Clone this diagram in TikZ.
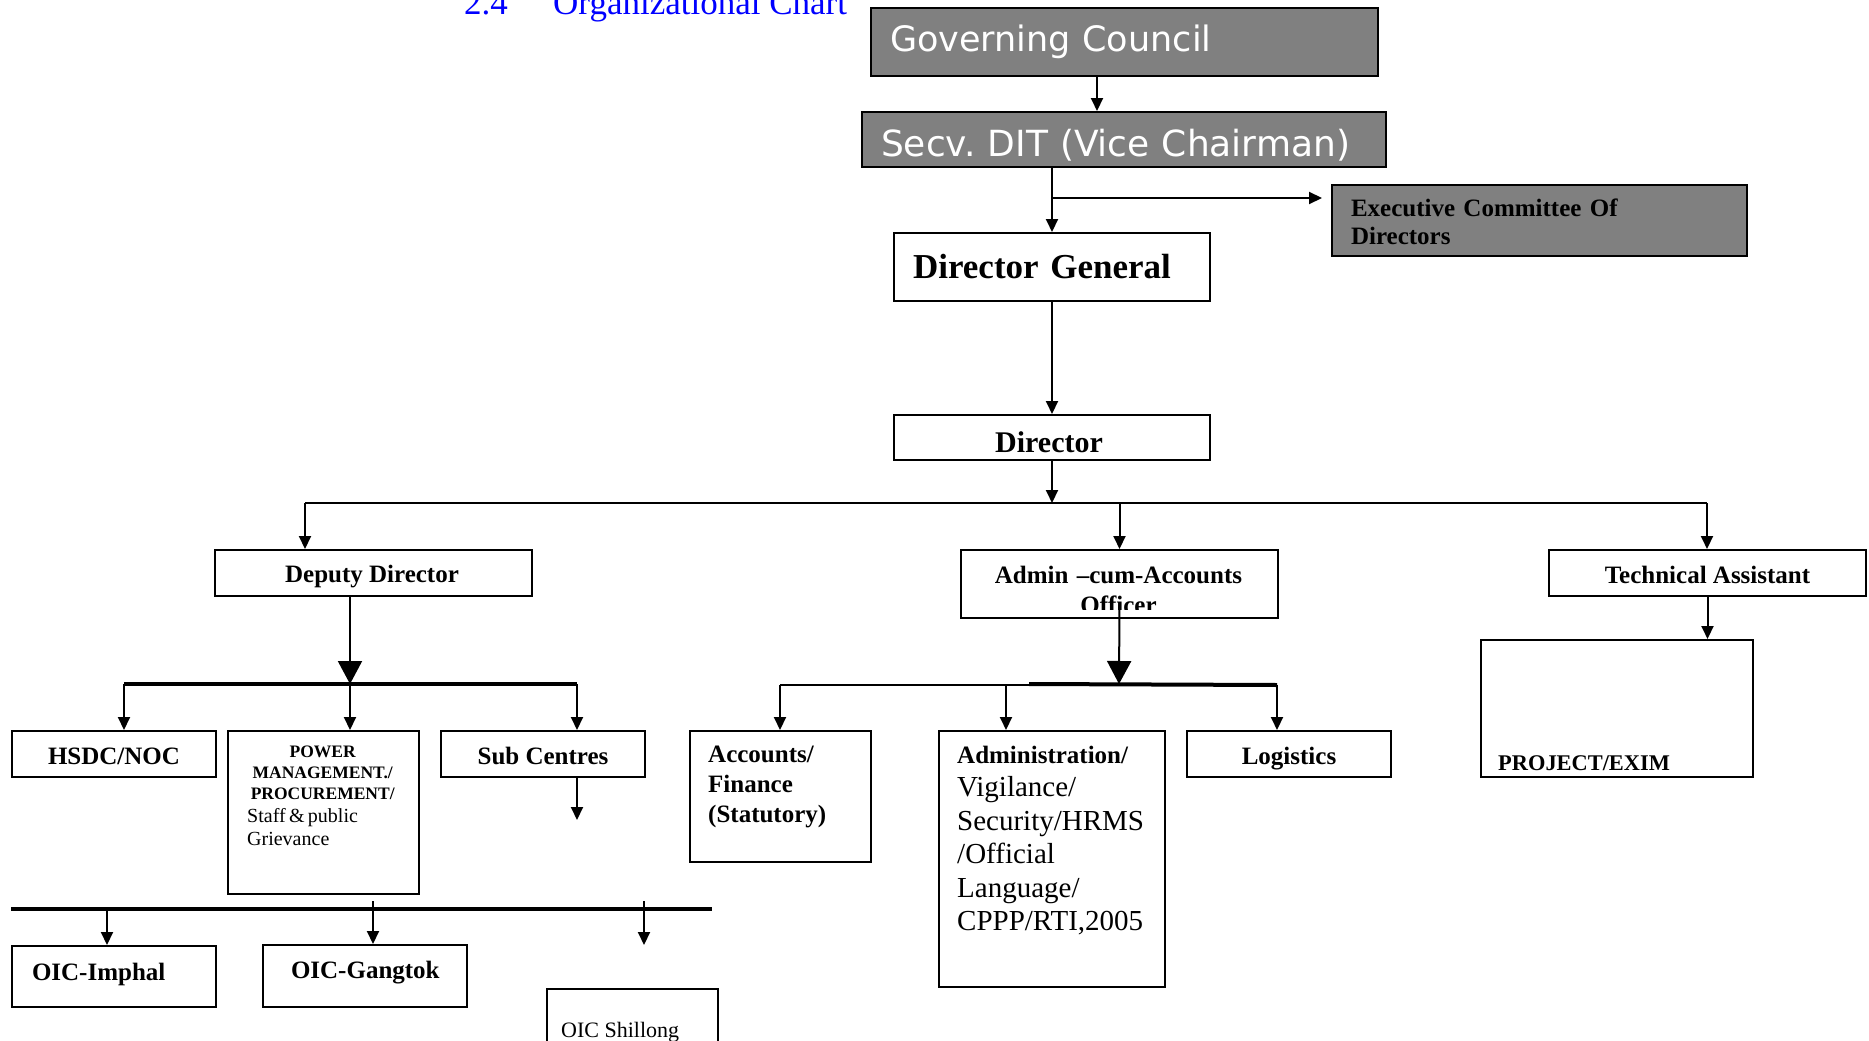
\documentclass[tikz,border=0pt]{standalone}
\usepackage{fontspec}
\setmainfont{Liberation Serif}
\newfontfamily\dejavu{DejaVu Sans}
\usetikzlibrary{arrows.meta, positioning, calc}
\definecolor{boxgray}{RGB}{128,128,128}
\definecolor{titleblue}{RGB}{0,0,255}

\begin{document}
\frenchspacing
\begin{tikzpicture}[x=1pt, y=-1pt,
  orgbox/.style={draw, line width=2pt, inner sep=0pt, anchor=north west},
  greybox/.style={orgbox, fill=boxgray},
  lbl/.style={inner sep=0pt, font=\bfseries\fontsize{25}{30}\selectfont},
  onebox/.style={orgbox, lbl, text height=20pt, text depth=0pt},
  headline/.style={inner sep=0pt, anchor=base west, text=titleblue, font=\fontsize{35}{42}\selectfont},
  wire/.style={line width=2pt},
  bus/.style={line width=4pt},
  link/.style={wire, -{Triangle[length=13pt, width=12pt]}},
  bigtip/.style={wire, -{Triangle[length=23pt, width=24pt]}},
]

% -------------------------------------------------------
% 1. Page and heading
% -------------------------------------------------------
\useasboundingbox (0,0) rectangle (1869,1041);
\node[headline] (title) at (464,15) {\makebox[89pt][l]{2.4}Organizational Chart};

% -------------------------------------------------------
% 2. Council, vice chairman, executive committee
% -------------------------------------------------------
\node[greybox, minimum width=507, minimum height=68, inner xsep=19, text width=469, align=left,
      text=white, font=\dejavu\fontsize{35}{42}\selectfont] (gc) at (870,7) {Governing Council};
\node[greybox, minimum width=524, minimum height=55, inner xsep=19, text width=486, align=left,
      text height=33, text depth=0, text=white, font=\dejavu\fontsize{36}{42}\selectfont] (secv) at (861,111) {Secv. DIT (Vice Chairman)};
\node[greybox, minimum width=415, minimum height=71, inner xsep=19, text width=377, align=left,
      text height=20, font=\bfseries\fontsize{25}{28}\selectfont] (exec) at (1331,184) {Executive Committee Of\\Directors};

% -------------------------------------------------------
% 3. Director General and Director
% -------------------------------------------------------
\node[orgbox, minimum width=316, minimum height=68, inner xsep=19, text width=278, align=left,
      text height=23, text depth=0, font=\bfseries\fontsize{35}{42}\selectfont] (dg) at (893,232) {Director General};
\node[orgbox, minimum width=316, minimum height=45] (dir) at (893,414) {};
\begin{scope}
  \clip (dir.north west) rectangle ([yshift=9pt]dir.south east);
  \node[lbl, anchor=base, font=\bfseries\fontsize{30}{36}\selectfont] (dirT) at (1049,452) {Director};
\end{scope}

% -------------------------------------------------------
% 4. Second level
% -------------------------------------------------------
\node[orgbox, minimum width=317, minimum height=46] (dep) at (214,549) {};
\begin{scope}
  \clip (dep.north west) rectangle ([yshift=9pt]dep.south east);
  \node[lbl, anchor=base] (depT) at (372,582.5) {Deputy Director};
\end{scope}
\node[orgbox, minimum width=317, minimum height=68] (adm) at (960,549) {};
\begin{scope}
  \clip (adm.north west) rectangle ([yshift=10pt]adm.south east);
  \node[lbl, anchor=base, text width=280, align=center] (admT) at (1118.5,583) {Admin –cum-Accounts\\Officer};
\end{scope}
\node[onebox, minimum width=317, minimum height=46] (tech) at (1548,549) {Technical Assistant};

% -------------------------------------------------------
% 5. Third level
% -------------------------------------------------------
\node[onebox, minimum width=204, minimum height=46] (hsdc) at (11,730) {HSDC/NOC};
\node[orgbox, minimum width=191, minimum height=163] (pm) at (227,730) {};
\node[inner sep=0pt, anchor=base west, text width=151] (pmT) at (247,757)
  {{\centering\bfseries\fontsize{17.5}{21}\selectfont POWER\\MANAGEMENT./\\PROCUREMENT/\par}%
   {\raggedright\fontsize{20}{23}\selectfont Staff \& public\\Grievance\par}};
\node[onebox, minimum width=204, minimum height=46] (sub) at (440,730) {Sub Centres};

\node[orgbox, minimum width=181, minimum height=131] (acct) at (689,730) {};
\node[lbl, anchor=base west, text width=150, align=left] (acctT) at (708,762) {Accounts/\\Finance\\(Statutory)};
\node[orgbox, minimum width=226, minimum height=256] (adx) at (938,730) {};
\node[inner sep=0pt, anchor=base west, text width=200] (adxT) at (957,763)
  {{\raggedright\bfseries\fontsize{25}{30}\selectfont Administration/\par}%
   {\raggedright\fontsize{29}{33.5}\selectfont Vigilance/\\Security/HRMS\\/Official\\Language/\\CPPP/RTI,2005\par}};
\node[onebox, minimum width=204, minimum height=46] (logi) at (1186,730) {Logistics};

\node[orgbox, minimum width=272, minimum height=137] (proj) at (1480,639) {};
\node[lbl, anchor=base west, font=\bfseries\fontsize{22.4}{27}\selectfont] (projT) at (1498,770) {PROJECT/EXIM};

% -------------------------------------------------------
% 6. Offices in charge
% -------------------------------------------------------
\node[onebox, minimum width=204, minimum height=61, inner xsep=20, text width=164, align=left,
      text height=12pt, text depth=4pt] (imp) at (11,945) {\mbox{OIC-Imphal}};
\node[onebox, minimum width=204, minimum height=62, inner xsep=28, text width=148, align=left,
      text height=10pt, text depth=6pt] (gtk) at (262,944) {\mbox{OIC-Gangtok}};
\node[orgbox, minimum width=171, minimum height=80] (shl) at (546,988) {};
\node[inner sep=0pt, anchor=base west, font=\fontsize{22}{26}\selectfont] (shlT) at (561,1037) {OIC Shillong};

% -------------------------------------------------------
% 7. Connectors
% -------------------------------------------------------
\coordinate (execJ) at (1051,198);
\coordinate (busL) at (305,503);
\coordinate (busR) at (1707,503);
\coordinate (depJ) at (350,684);
\coordinate (depL) at (124,684);
\coordinate (depR) at (577,684);
\coordinate (subEnd) at (577,820);
\coordinate (admJ) at (1119,684);
\coordinate (admL) at (780,685);
\coordinate (admM) at (1006,685);
\coordinate (admR) at (1277,685);
\coordinate (oicL) at (11,909);
\coordinate (oicR) at (712,909);
\coordinate (dropA) at (107,909);
\coordinate (dropB) at (373,901);
\coordinate (dropC) at (644,901);
\coordinate (dropEnd) at (644,945);

\draw[link] ([xshift=-27.5pt]gc.south) -- ([xshift=-27.5pt]gc.south |- secv.north);
\draw[link] (secv.south -| dg.north) -- (dg.north);
\draw[link, shorten >=9pt] (execJ) -- (execJ -| exec.west);
\draw[link] (dg.south) -- (dir.north);

% Director to the three branches
\draw[link] (dir.south) -- (dir.south |- busL);
\draw[wire] (busL) -- (busR);
\draw[link] (busL) -- (busL |- dep.north);
\draw[link] (busL -| adm.north) -- (adm.north);
\draw[link] (busR) -- (busR |- tech.north);
\draw[link] (tech.south) -- (tech.south |- proj.north);

% Deputy Director branch
\draw[bigtip] (depJ |- dep.south) -- (depJ);
\draw[bus] (depL) -- (depR);
\draw[link] (depL) -- (depL |- hsdc.north);
\draw[link] (depJ) -- (depJ |- pm.north);
\draw[link] (depR) -- (depR |- sub.north);
\draw[link] (subEnd |- sub.south) -- (subEnd);

% Admin branch
\draw[bigtip] ([yshift=14pt]adm.south) -- (admJ);
\draw[wire] (admL) -- (admR);
\draw[bus] (1029,684) -- (admR);
\draw[link] (admL) -- (admL |- acct.north);
\draw[link] (admM) -- (admM |- adx.north);
\draw[link] (admR) -- (admR |- logi.north);

% Offices in charge
\draw[bus] (oicL) -- (oicR);
\draw[link] (dropA) -- (dropA |- imp.north);
\draw[link] (dropB) -- (dropB |- gtk.north);
\draw[link] (dropC) -- (dropEnd);

\end{tikzpicture}
\end{document}
